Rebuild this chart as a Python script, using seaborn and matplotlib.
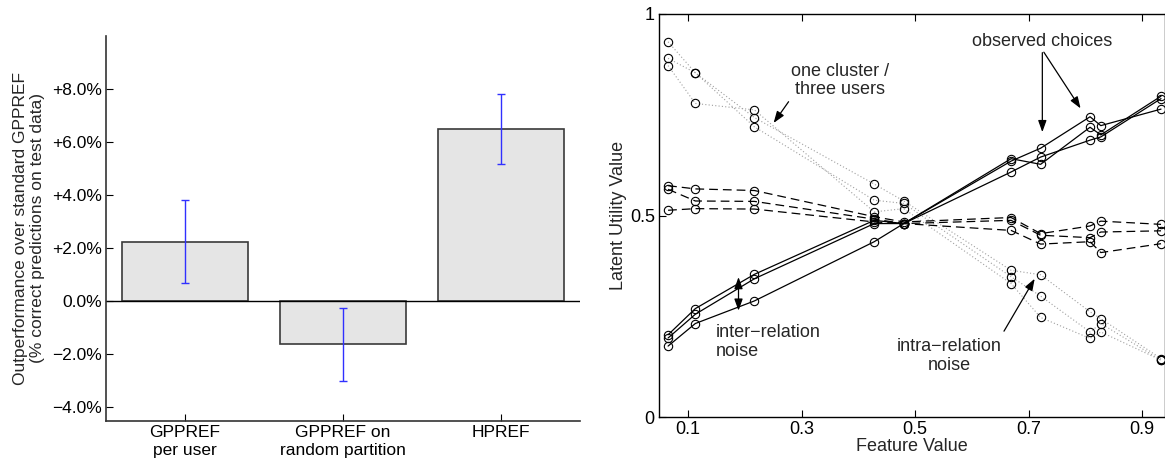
import numpy as np
import pandas as pd
import seaborn as sns
import matplotlib.pyplot as plt

# left panel: outperformance bars
methods = ["GPPREF\nper user", "GPPREF on\nrandom partition", "HPREF"]
gain = [2.25, -1.62, 6.48]
gain_err = [1.55, 1.37, 1.32]
gain_ticks = [-4, -2, 0, 2, 4, 6, 8]
gain_ticklabels = ["\u22124.0%", "\u22122.0%", "0.0%", "+2.0%", "+4.0%", "+6.0%", "+8.0%"]

# right panel: latent utilities of three users per relation
feat = [0.065, 0.113, 0.217, 0.428, 0.480, 0.669, 0.721, 0.808, 0.827, 0.933]
rising = [
    [0.204, 0.269, 0.354, 0.488, 0.480, 0.635, 0.667, 0.745, 0.723, 0.764],
    [0.196, 0.255, 0.343, 0.480, 0.480, 0.641, 0.627, 0.719, 0.700, 0.796],
    [0.176, 0.232, 0.288, 0.435, 0.480, 0.608, 0.645, 0.687, 0.695, 0.790],
]
flat = [
    [0.574, 0.566, 0.562, 0.497, 0.484, 0.495, 0.455, 0.474, 0.486, 0.478],
    [0.565, 0.536, 0.535, 0.491, 0.480, 0.488, 0.451, 0.445, 0.459, 0.462],
    [0.513, 0.517, 0.516, 0.484, 0.480, 0.463, 0.429, 0.435, 0.408, 0.430],
]
falling = [
    [0.931, 0.854, 0.743, 0.578, 0.536, 0.364, 0.353, 0.261, 0.244, 0.145],
    [0.890, 0.854, 0.720, 0.538, 0.530, 0.348, 0.300, 0.211, 0.232, 0.141],
    [0.872, 0.778, 0.762, 0.509, 0.517, 0.331, 0.247, 0.195, 0.211, 0.141],
]

sns.set_style("ticks")
plt.rcParams["font.family"] = ["Liberation Sans", "DejaVu Sans"]
plt.rcParams["xtick.direction"] = "in"
plt.rcParams["ytick.direction"] = "in"

fig = plt.figure(figsize=(11.65, 4.62), dpi=100)
ax1 = fig.add_axes([106 / 1165, 41.3 / 462, 474 / 1165, 384.7 / 462])
ax2 = fig.add_axes([659 / 1165, 45 / 462, 506 / 1165, 403 / 462])

# ---- bars
bars = pd.DataFrame({"method": methods, "gain": gain})
sns.barplot(data=bars, x="method", y="gain", ax=ax1, color="#e5e5e5",
            saturation=1, edgecolor="#3a3a3a", linewidth=1.2, width=0.8,
            errorbar=None)
ax1.errorbar(np.arange(len(methods)), gain, yerr=gain_err, fmt="none",
             ecolor="#3030ff", elinewidth=1, capsize=3, capthick=1)
ax1.axhline(0, color="black", lw=1)
ax1.set_xlim(-0.5, 2.5)
ax1.set_ylim(-4.5, 10)
ax1.set_yticks(gain_ticks)
ax1.set_yticklabels(gain_ticklabels)
ax1.set_xlabel("")
ax1.set_ylabel("Outperformance over standard GPPREF\n(% correct predictions on test data)",
               fontsize=12.5, labelpad=5, linespacing=1.15)
ax1.tick_params(labelsize=12.5, length=5, width=0.8, colors="black", pad=3)
ax1.tick_params(axis="x", pad=3)
for lab in ax1.get_xticklabels():
    lab.set_linespacing(1.25)
sns.despine(ax=ax1)
for s in ["left", "bottom"]:
    ax1.spines[s].set_color("#333333")
    ax1.spines[s].set_linewidth(1.2)

# ---- lines
rows = []
for kind, group in [("rising", rising), ("flat", flat), ("falling", falling)]:
    for u, vals in enumerate(group):
        for x, v in zip(feat, vals):
            rows.append({"kind": kind, "user": u, "x": x, "v": v})
lines = pd.DataFrame(rows)

styles = {
    "falling": dict(color="#a0a0a0", linestyle=(0, (1, 2)), lw=0.8),
    "flat": dict(color="black", linestyle=(0, (7, 4)), lw=0.9),
    "rising": dict(color="black", linestyle="-", lw=0.9),
}
for kind in ["falling", "flat", "rising"]:
    for u in range(3):
        d = lines[(lines.kind == kind) & (lines.user == u)]
        sns.lineplot(data=d, x="x", y="v", ax=ax2, marker="o", markersize=6,
                     markerfacecolor="none", markeredgecolor="black",
                     markeredgewidth=0.8, **styles[kind])

ax2.set_xlim(0.049, 0.94)
ax2.set_ylim(0, 1)
ax2.set_xticks([0.1, 0.3, 0.5, 0.7, 0.9])
ax2.set_xticklabels(["0.1", "0.3", "0.5", "0.7", "0.9"])
ax2.set_yticks([0, 0.5, 1])
ax2.set_yticklabels(["0", "0.5", "1"])
ax2.tick_params(labelsize=13, length=5, width=0.8, top=True, colors="black", pad=3)
ax2.set_xlabel("Feature Value", fontsize=13, labelpad=0)
ax2.set_ylabel("Latent Utility Value", fontsize=13, labelpad=2)
for s in ax2.spines.values():
    s.set_color("black")
    s.set_linewidth(1.0)

arrow = dict(arrowstyle="-|>,head_length=0.5,head_width=0.18", color="black",
             lw=0.9, mutation_scale=14)
ax2.annotate("one cluster /\nthree users", xy=(0.248, 0.724), xytext=(0.367, 0.835),
             ha="center", va="center", fontsize=13, linespacing=1.15)
ax2.annotate("", xy=(0.248, 0.724), xytext=(0.28, 0.788), arrowprops=arrow)
ax2.text(0.724, 0.931, "observed choices", ha="center", va="center", fontsize=13)
ax2.annotate("", xy=(0.724, 0.70), xytext=(0.724, 0.911), arrowprops=arrow)
ax2.annotate("", xy=(0.794, 0.760), xytext=(0.724, 0.911), arrowprops=arrow)
ax2.text(0.149, 0.187, "inter\u2212relation\nnoise", ha="left", va="center",
         fontsize=13, linespacing=1.15)
ax2.annotate("", xy=(0.189, 0.354), xytext=(0.189, 0.257),
             arrowprops=dict(arrowstyle="<|-|>,head_length=0.5,head_width=0.18",
                             color="black", lw=0.9, mutation_scale=14))
ax2.text(0.56, 0.151, "intra\u2212relation\nnoise", ha="center", va="center",
         fontsize=13, linespacing=1.15)
ax2.annotate("", xy=(0.713, 0.349), xytext=(0.654, 0.207), arrowprops=arrow)

fig.savefig("out.png", dpi=100)
